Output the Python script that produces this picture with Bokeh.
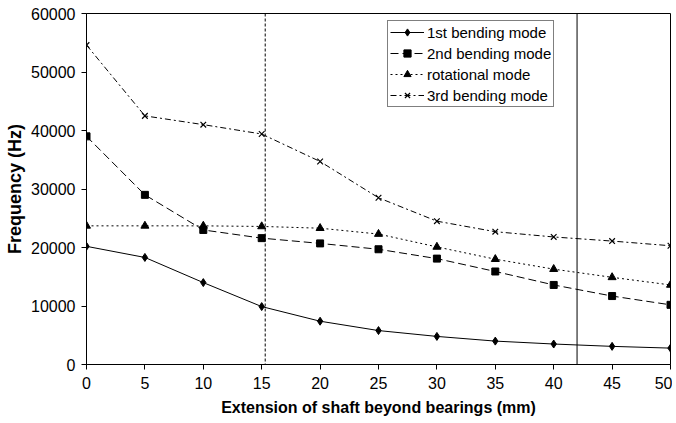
from bokeh.plotting import figure
from bokeh.models import Span, Legend, LegendItem, Range1d, FixedTicker
from bokeh.embed import file_html
from bokeh.resources import INLINE

ext_mm = [0, 5, 10, 15, 20, 25, 30, 35, 40, 45, 50]
bend1 = [20200, 18300, 14000, 9900, 7400, 5800, 4800, 4000, 3500, 3100, 2800]
bend2 = [39000, 29000, 23000, 21600, 20700, 19700, 18100, 15900, 13600, 11700, 10200]
rotational = [23700, 23700, 23700, 23600, 23300, 22300, 20100, 18000, 16300, 14900, 13600]
bend3 = [54600, 42500, 41000, 39400, 34700, 28500, 24500, 22700, 21800, 21100, 20300]
x_ticks = [0, 5, 10, 15, 20, 25, 30, 35, 40, 45, 50]
y_ticks = [0, 10000, 20000, 30000, 40000, 50000, 60000]
span_dashed_x = 15.3
span_solid_x = 42

FONT = "Liberation Sans"

p = figure(width=672, height=423, output_backend="svg", toolbar_location=None,
           x_range=Range1d(0, 50), y_range=Range1d(0, 60000),
           min_border_left=86, min_border_right=2, min_border_top=13, min_border_bottom=59)

p.xgrid.visible = False
p.ygrid.visible = False
p.outline_line_color = "black"
p.outline_line_width = 1
p.background_fill_color = "white"

for ax in (p.xaxis[0], p.yaxis[0]):
    ax.axis_line_color = "black"
    ax.major_tick_line_color = "black"
    ax.major_tick_out = 5
    ax.major_tick_in = 0
    ax.minor_tick_line_color = None
    ax.major_label_text_font = FONT
    ax.major_label_text_font_size = "16px"
    ax.major_label_text_color = "black"
    ax.axis_label_text_font = FONT
    ax.axis_label_text_font_style = "bold"
    ax.axis_label_text_color = "black"

p.xaxis.ticker = FixedTicker(ticks=x_ticks)
p.yaxis.ticker = FixedTicker(ticks=y_ticks)
p.xaxis.axis_label = "Extension of shaft beyond bearings (mm)"
p.yaxis.axis_label = "Frequency (Hz)"
p.xaxis.axis_label_text_font_size = "16px"
p.yaxis.axis_label_text_font_size = "18px"
p.xaxis.major_label_standoff = 7
p.yaxis.major_label_standoff = 6
p.xaxis.axis_label_standoff = 7
p.yaxis.axis_label_standoff = 3

p.add_layout(Span(location=span_dashed_x, dimension="height", line_color="black",
                  line_width=1, line_dash="3 2"))
p.add_layout(Span(location=span_solid_x, dimension="height", line_color="black",
                  line_width=1))

l1 = p.line(ext_mm, bend1, line_color="black", line_width=1)
m1 = p.scatter(ext_mm, bend1, marker="diamond", size=8, color="black")
l2 = p.line(ext_mm, bend2, line_color="black", line_width=1, line_dash="8 4")
m2 = p.scatter(ext_mm, bend2, marker="square", size=7, color="black")
l3 = p.line(ext_mm, rotational, line_color="black", line_width=1, line_dash="2 3")
m3 = p.scatter(ext_mm, rotational, marker="triangle", size=8, color="black")
l4 = p.line(ext_mm, bend3, line_color="black", line_width=1, line_dash="6 3 2 3")
m4 = p.scatter(ext_mm, bend3, marker="x", size=8, line_color="black", line_width=1.2)

legend = Legend(items=[
    LegendItem(label="1st bending mode", renderers=[l1, m1]),
    LegendItem(label="2nd bending mode", renderers=[l2, m2]),
    LegendItem(label="rotational mode", renderers=[l3, m3]),
    LegendItem(label="3rd bending mode", renderers=[l4, m4]),
], location=(301, 257))
legend.label_text_font = FONT
legend.label_text_font_size = "15px"
legend.label_text_color = "black"
legend.border_line_color = "black"
legend.border_line_width = 1
legend.background_fill_alpha = 1
legend.padding = 2
legend.spacing = 3
legend.margin = 0
legend.label_height = 18
legend.glyph_height = 18
legend.glyph_width = 34
legend.label_standoff = 3
p.add_layout(legend)

open("out.html", "w").write(file_html(p, INLINE))
